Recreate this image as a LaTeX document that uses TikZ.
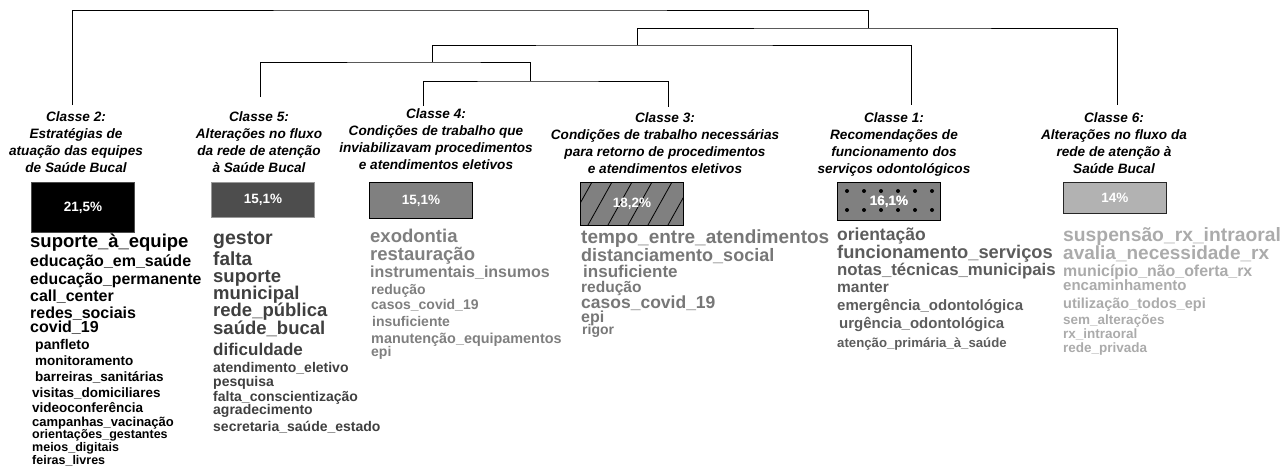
\documentclass[tikz,border=0pt]{standalone}
\usepackage{fontspec}
\setmainfont{Liberation Sans}
\definecolor{cfive}{HTML}{3F3F3F}
\definecolor{cfour}{HTML}{7F7F7F}
\definecolor{cthree}{HTML}{777777}
\definecolor{cone}{HTML}{5C5C5C}
\definecolor{csix}{HTML}{ABABAB}
\definecolor{bfive}{HTML}{4D4D4D}
\definecolor{bgray}{HTML}{808080}
\definecolor{bsix}{HTML}{B2B2B2}
\tikzset{
  hd/.style={font=\fontsize{13.6}{17}\selectfont\bfseries\itshape, align=center, anchor=north, inner sep=0pt},
  pbox/.style={anchor=north west, minimum width=103pt, inner sep=0pt, text=white, font=\fontsize{13.5}{13.5}\selectfont\bfseries, line width=0.8pt},
  wd/.style={anchor=mid west, inner sep=0pt},
  dendro/.style={line width=1pt, draw=black},
}
\begin{document}
\begin{tikzpicture}[x=1pt,y=-1pt]
\useasboundingbox (0,0) rectangle (1287,466);

% headers
\node[hd] (h2) at (76,111) {Classe 2:\\Estratégias de\\atuação das equipes\\de Saúde Bucal};
\node[hd] (h5) at (259,111) {Classe 5:\\Alterações no fluxo\\da rede de atenção\\à Saúde Bucal};
\node[hd] (h4) at (436,108) {Classe 4:\\Condições de trabalho que\\inviabilizavam procedimentos\\e atendimentos eletivos};
\node[hd] (h3) at (665,112) {Classe 3:\\Condições de trabalho necessárias\\para retorno de procedimentos\\e atendimentos eletivos};
\node[hd] (h1) at (894,112) {Classe 1:\\Recomendações de\\funcionamento dos\\serviços odontológicos};
\node[hd] (h6) at (1114,112) {Classe 6:\\Alterações no fluxo da\\rede de atenção à\\Saúde Bucal};

% dendrogram
\coordinate (L2) at (72,105);
\coordinate (L5) at (260,97);
\coordinate (L4) at (423,106);
\coordinate (L3) at (668,107);
\coordinate (L1) at (911,105);
\coordinate (L6) at (1117,105);
\coordinate (N43) at (530,81);
\coordinate (N543) at (432,62);
\coordinate (N5431) at (637,45);
\coordinate (N54316) at (868,28);
\coordinate (R) at (470,10);
\draw[dendro] (L4) |- (N43) -| (L3);
\draw[dendro] (L5) |- (N543) -| (N43);
\draw[dendro] (N543) |- (N5431) -| (L1);
\draw[dendro] (N5431) |- (N54316) -| (L6);
\draw[dendro] (L2) |- (R) -| (N54316);

% boxes
\node[pbox, fill=black, draw=black!70, minimum height=50pt] (b2) at (31,182) {21,5\%};
\node[pbox, fill=bfive, draw=black!40, minimum height=35pt] (b5) at (211,182) {15,1\%};
\node[pbox, fill=bgray, draw=black, minimum height=36pt] (b4) at (369,182) {15,1\%};
\node[pbox, fill=bgray, draw=black, minimum height=43pt] (b3) at (580,182) {};
\begin{scope}
  \clip (b3.south west) rectangle (b3.north east);
  \foreach \tx in {592,612,632,652,672,692,712} {
    \draw[line width=0.8pt] (\tx-24,225) -- (\tx,182);
  }
\end{scope}
\draw[line width=0.8pt] (b3.south west) rectangle (b3.north east);
\node[text=white, font=\fontsize{13.5}{13.5}\selectfont\bfseries, inner sep=0pt] (p3) at (b3.center) {18,2\%};
\node[pbox, fill=bgray, draw=black, minimum height=38pt] (b1) at (837,182) {16,1\%};
\foreach \dx in {0,...,5} {
  \fill ({847+17*\dx},191) circle (2pt);
  \fill ({847+17*\dx},210) circle (2pt);
}
\node[text=white, font=\fontsize{13.5}{13.5}\selectfont\bfseries, inner sep=0pt] (p1) at (b1.center) {16,1\%};
\node[pbox, fill=bsix, draw=black!85, minimum height=31pt] (b6) at (1063,182) {14\%};

% word lists
\foreach \wx/\wy/\wz/\wt [count=\i] in {
  30/245/18.5/suporte\_à\_equipe,
  30/264/16/educação\_em\_saúde,
  30/282/15.8/educação\_permanente,
  30/299/16/call\_center,
  30/316/16/redes\_sociais,
  30/330/16/covid\_19,
  35/347/14/panfleto,
  35/363/13.5/monitoramento,
  35/379/13.5/barreiras\_sanitárias,
  32/395/13.5/visitas\_domiciliares,
  32/410/13.5/videoconferência,
  32/424/13/campanhas\_vacinação,
  32/436/12.5/orientações\_gestantes,
  32/449/12.5/meios\_digitais,
  32/462/12.5/feiras\_livres} {
  \node[wd, text=black, font=\fontsize{\wz}{\wz}\selectfont\bfseries] (wa\i) at (\wx,\wy) {\wt};
}
\foreach \wx/\wy/\wz/\wt [count=\i] in {
  213/242/19.5/gestor,
  213/263/19/falta,
  213/280/18.5/suporte,
  213/297/18.5/municipal,
  213/314/18.5/rede\_pública,
  213/332/18.5/saúde\_bucal,
  213/353/17/dificuldade,
  213/370/14/atendimento\_eletivo,
  213/384/14/pesquisa,
  213/399/14/falta\_conscientização,
  213/412/14/agradecimento,
  213/429/14/secretaria\_saúde\_estado} {
  \node[wd, text=cfive, font=\fontsize{\wz}{\wz}\selectfont\bfseries] (wb\i) at (\wx,\wy) {\wt};
}
\foreach \wx/\wy/\wz/\wt [count=\i] in {
  370/240/18.5/exodontia,
  370/258/18.5/restauração,
  370/275/16/instrumentais\_insumos,
  371/292/14/redução,
  371/307/14/casos\_covid\_19,
  372/324/14/insuficiente,
  371/341/14.4/manutenção\_equipamentos,
  371/354/14/epi} {
  \node[wd, text=cfour, font=\fontsize{\wz}{\wz}\selectfont\bfseries] (wc\i) at (\wx,\wy) {\wt};
}
\foreach \wx/\wy/\wz/\wt [count=\i] in {
  581/241/19/tempo\_entre\_atendimentos,
  581/259/18/distanciamento\_social,
  583/275/17/insuficiente,
  581/290/15.5/redução,
  581/306/17.5/casos\_covid\_19,
  581/320/16/epi,
  582/332/14/rigor} {
  \node[wd, text=cthree, font=\fontsize{\wz}{\wz}\selectfont\bfseries] (wd\i) at (\wx,\wy) {\wt};
}
\foreach \wx/\wy/\wz/\wt [count=\i] in {
  837/238/17.5/orientação,
  837/256/18.3/funcionamento\_serviços,
  837/273/16.8/notas\_técnicas\_municipais,
  837/290/15.5/manter,
  837/308/15/emergência\_odontológica,
  839/326/15/urgência\_odontológica,
  837/345/13.2/atenção\_primária\_à\_saúde} {
  \node[wd, text=cone, font=\fontsize{\wz}{\wz}\selectfont\bfseries] (we\i) at (\wx,\wy) {\wt};
}
\foreach \wx/\wy/\wz/\wt [count=\i] in {
  1063/239/19.3/suspensão\_rx\_intraoral,
  1063/257/19/avalia\_necessidade\_rx,
  1063/274/15.9/município\_não\_oferta\_rx,
  1063/288/15/encaminhamento,
  1063/306/14.5/utilização\_todos\_epi,
  1063/322/13.5/sem\_alterações,
  1063/336/13.5/rx\_intraoral,
  1063/350/13.5/rede\_privada} {
  \node[wd, text=csix, font=\fontsize{\wz}{\wz}\selectfont\bfseries] (wf\i) at (\wx,\wy) {\wt};
}
\end{tikzpicture}
\end{document}
